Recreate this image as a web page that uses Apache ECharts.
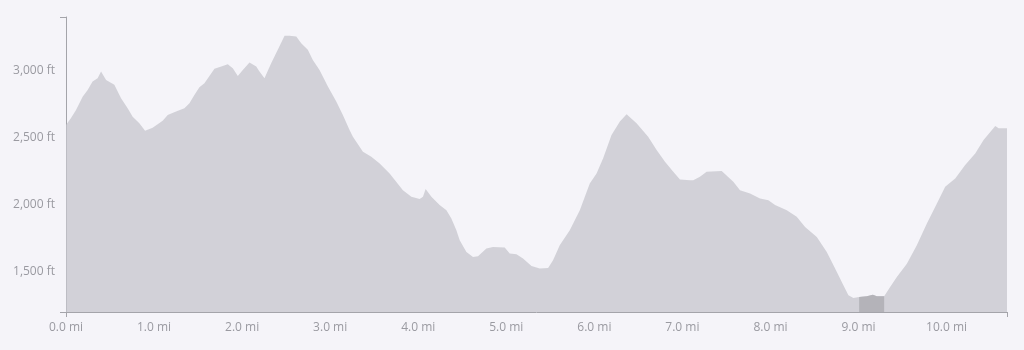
<!DOCTYPE html>
<html>
<head>
<meta charset="utf-8">
<script src="https://cdn.jsdelivr.net/npm/echarts@6/dist/echarts.min.js"></script>
<style>
html,body{margin:0;padding:0;background:#f5f4f9;}
#chart{width:1024px;height:350px;}
</style>
</head>
<body>
<div id="chart"></div>
<script>
// distance along trail (mi)
const miles = [0.00,0.057,0.114,0.189,0.246,0.302,0.359,0.398,0.455,0.549,0.625,0.700,0.757,0.833,0.898,0.984,
1.098,1.155,1.250,1.345,1.402,1.458,1.515,1.572,1.629,1.686,1.780,1.837,1.894,1.951,2.008,2.084,2.160,2.197,2.254,
2.330,2.405,2.482,2.538,2.615,2.671,2.746,2.803,2.879,2.974,3.069,3.144,3.220,3.258,3.372,3.467,3.562,3.675,3.826,
3.922,4.016,4.054,4.084,4.149,4.243,4.320,4.376,4.433,4.471,4.547,4.622,4.679,4.774,4.849,4.982,5.039,5.115,5.190,
5.286,5.380,5.475,5.531,5.607,5.721,5.835,5.948,6.025,6.100,6.195,6.290,6.366,6.479,6.611,6.707,6.802,6.896,6.972,
7.086,7.123,7.199,7.275,7.446,7.578,7.654,7.768,7.881,7.976,8.052,8.185,8.298,8.393,8.526,8.639,8.734,8.828,8.885,
8.942,9.007,9.094,9.163,9.208,9.291,9.359,9.435,9.549,9.662,9.776,9.890,9.984,10.098,10.211,10.325,10.420,10.515,
10.553,10.591,10.686];
// elevation (ft)
const elevation = [2595,2647,2707,2807,2857,2920,2945,2995,2932,2895,2795,2720,2657,2607,2552,2575,
2627,2670,2695,2720,2757,2820,2877,2907,2962,3015,3037,3050,3020,2962,3007,3062,3032,2995,2945,
3057,3157,3262,3262,3257,3207,3157,3082,3007,2882,2770,2670,2557,2507,2395,2357,2307,2232,2107,
2057,2040,2057,2115,2057,1995,1957,1895,1807,1732,1645,1607,1612,1670,1682,1677,1632,1627,1595,
1540,1520,1525,1582,1695,1807,1957,2157,2232,2345,2520,2620,2675,2607,2507,2407,2320,2245,2187,
2182,2182,2207,2245,2250,2170,2107,2082,2045,2032,1995,1957,1907,1832,1757,1645,1520,1395,1320,
1300,1307,1312,1325,1312,1312,1382,1457,1557,1695,1857,2007,2132,2195,2295,2382,2482,2557,
2587,2570,2570];
// highlighted segment (mi)
const highlightRange = [9.007, 9.291];
// axis ranges and labels
const xRange = [0, 10.686];
const yRange = [1195, 3403];
const yTickLabels = [1500, 2000, 2500, 3000];
const xTickLabels = [0,1,2,3,4,5,6,7,8,9,10];

const profile = miles.map((m, i) => [m, elevation[i]]);
const highlight = profile.filter(p => p[0] >= highlightRange[0] && p[0] <= highlightRange[1]);

const chart = echarts.init(document.getElementById('chart'), null, {renderer: 'canvas'});
const labelStyle = {color: '#9a9aa1', fontSize: 12, fontFamily: 'Open Sans'};
chart.setOption({
  backgroundColor: '#f5f4f9',
  animation: false,
  grid: {left: 66, right: 17, top: 17, bottom: 38, containLabel: false},
  xAxis: {
    type: 'value', min: xRange[0], max: xRange[1], interval: 1,
    axisLine: {show: true, lineStyle: {color: '#a4a4aa', width: 1}},
    axisTick: {show: true, length: 5, customValues: xRange, lineStyle: {color: '#a4a4aa'}},
    axisLabel: Object.assign({margin: 10, customValues: xTickLabels,
      formatter: v => v.toFixed(1) + ' mi'}, labelStyle),
    splitLine: {show: true, showMinLine: false, showMaxLine: false, lineStyle: {color: '#e5e4eb', width: 1}}
  },
  yAxis: {
    type: 'value', min: yRange[0], max: yRange[1], splitNumber: 5,
    axisLine: {show: true, lineStyle: {color: '#a4a4aa', width: 1}},
    axisTick: {show: true, length: 6, customValues: yRange, lineStyle: {color: '#a4a4aa'}},
    axisLabel: Object.assign({margin: 11, customValues: yTickLabels,
      formatter: v => v.toLocaleString('en-US') + ' ft'}, labelStyle),
    splitLine: {show: true, showMinLine: false, showMaxLine: false, lineStyle: {color: '#e5e4eb', width: 1}}
  },
  series: [
    {
      type: 'line', data: profile, showSymbol: false, symbol: 'none', smooth: false,
      lineStyle: {width: 0}, areaStyle: {color: 'rgb(198,197,204)', opacity: 0.75, origin: 'start'}, z: 2
    },
    {
      type: 'line', data: highlight, showSymbol: false, symbol: 'none',
      lineStyle: {width: 0}, areaStyle: {color: '#b4b3b9', opacity: 1, origin: 'start'}, z: 3
    }
  ]
});
</script>
</body>
</html>
